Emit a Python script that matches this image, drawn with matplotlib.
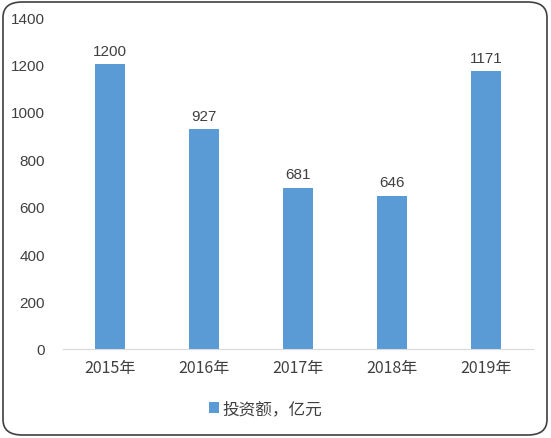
import matplotlib.pyplot as plt
from matplotlib.patches import FancyBboxPatch

plt.rcParams['font.family'] = ['Noto Sans CJK SC', 'DejaVu Sans']

# 数据
years = ["2015年", "2016年", "2017年", "2018年", "2019年"]
invest = [1200, 927, 681, 646, 1171]
series_name = "投资额，亿元"

bar_color = "#5B9BD5"
text_color = "#404040"

fig = plt.figure(figsize=(5.51, 4.39), dpi=100)
ax = fig.add_axes([63 / 551, 1 - 350 / 439, 470 / 551, 332 / 439])

x = range(len(years))
bars = ax.bar(x, invest, width=0.32, color=bar_color, label=series_name)

for xi, v in zip(x, invest):
    ax.text(xi, v + 28, str(v), ha="center", va="bottom",
            fontsize=11, color=text_color, family="Liberation Sans")

ax.set_xlim(-0.5, len(years) - 0.5)
ax.set_ylim(0, 1400)
ax.set_yticks(range(0, 1401, 200))
ax.set_xticks(list(x))
ax.set_xticklabels(years)

for s in ["top", "right", "left"]:
    ax.spines[s].set_visible(False)
ax.spines["bottom"].set_color("#D9D9D9")
ax.tick_params(axis="both", length=0, colors=text_color)
ax.tick_params(axis="y", pad=13, labelsize=11)
ax.tick_params(axis="x", pad=7, labelsize=11.5)
for lab in ax.get_yticklabels():
    lab.set_family("Liberation Sans")

fig.legend(handles=[bars], labels=[series_name], loc="center",
           bbox_to_anchor=(266 / 551, 1 - 410 / 439), frameon=False,
           handlelength=0.6, handleheight=0.6, handletextpad=0.2,
           prop={"size": 12}, labelcolor=text_color)

# 外框
frame = FancyBboxPatch((3 / 551, 3 / 439), 544 / 551, 433 / 439,
                       boxstyle="round,pad=0,rounding_size=0.035",
                       transform=fig.transFigure, fill=False,
                       edgecolor="#404040", linewidth=1.2)
fig.patches.append(frame)

fig.savefig("out.png", dpi=100)
